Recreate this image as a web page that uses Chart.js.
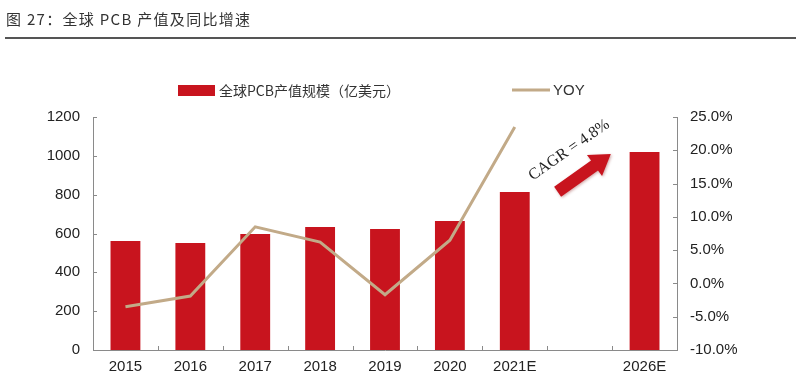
<!DOCTYPE html>
<html><head><meta charset="utf-8">
<script src="https://cdn.jsdelivr.net/npm/chart.js@4/dist/chart.umd.min.js"></script>
<style>html,body{margin:0;padding:0;background:#fff;}#wrap{width:796px;height:385px;position:relative;}</style>
</head><body><div id="wrap"><canvas id="c" width="796" height="385"></canvas></div>
<script>
const categories = ['2015','2016','2017','2018','2019','2020','2021E','','2026E'];
const pcbValues = [561, 551, 597, 633, 623, 664, 814, null, 1020];
const yoyValues = [-3.5, -1.9, 8.5, 6.2, -1.7, 6.5, 23.5, null, null];
const leftTicks = [0, 200, 400, 600, 800, 1000, 1200];
const rightTicks = [-10, -5, 0, 5, 10, 15, 20, 25];
const titleText = '图 27：全球 PCB 产值及同比增速';
const cagrText = 'CAGR = 4.8%';

const RED = '#C8141E';
const TAN = '#C2AA88';
const AXIS = '#8a8a8a';
const FONT = '"Liberation Sans", Arial, sans-serif';
const CJK = '"Noto Sans CJK SC", sans-serif';

const decor = {
  id: 'decor',
  afterDraw(chart) {
    const ctx = chart.ctx;
    const x = chart.scales.x, yl = chart.scales.y, yr = chart.scales.y1;
    const ca = chart.chartArea;
    ctx.save();
    // title
    ctx.fillStyle = '#333';
    ctx.font = '15px ' + CJK;
    ctx.textBaseline = 'middle';
    ctx.textAlign = 'left';
    if ('letterSpacing' in ctx) ctx.letterSpacing = '1.3px';
    ctx.fillText(titleText, 6, 19);
    if ('letterSpacing' in ctx) ctx.letterSpacing = '0px';
    ctx.strokeStyle = '#555';
    ctx.lineWidth = 2;
    ctx.beginPath(); ctx.moveTo(5, 38); ctx.lineTo(796, 38); ctx.stroke();
    // legend
    const ds = chart.data.datasets;
    ctx.fillStyle = RED;
    ctx.fillRect(178, 85, 37, 11);
    ctx.fillStyle = '#333';
    ctx.font = '14px ' + CJK;
    ctx.fillText(ds[0].label, 219, 91);
    ctx.strokeStyle = TAN; ctx.lineWidth = 3;
    ctx.beginPath(); ctx.moveTo(512, 90); ctx.lineTo(550, 90); ctx.stroke();
    ctx.font = '15px ' + FONT;
    ctx.fillText(ds[1].label, 553, 91);
    // inner tick marks
    ctx.strokeStyle = AXIS; ctx.lineWidth = 1;
    leftTicks.forEach(v => { const p = Math.round(yl.getPixelForValue(v)) + 0.5; ctx.beginPath(); ctx.moveTo(ca.left, p); ctx.lineTo(ca.left + 4, p); ctx.stroke(); });
    rightTicks.forEach(v => { const p = Math.round(yr.getPixelForValue(v)) + 0.5; ctx.beginPath(); ctx.moveTo(ca.right, p); ctx.lineTo(ca.right - 4, p); ctx.stroke(); });
    for (let i = 1; i < categories.length; i++) {
      const p = Math.round((x.getPixelForValue(i - 1) + x.getPixelForValue(i)) / 2) + 0.5;
      ctx.beginPath(); ctx.moveTo(p, ca.bottom); ctx.lineTo(p, ca.bottom - 4); ctx.stroke();
    }
    // CAGR arrow
    const tx = x.getPixelForValue(6.66), ty = yl.getPixelForValue(815);
    const hx = x.getPixelForValue(7.48), hy = yl.getPixelForValue(1010);
    const ang = Math.atan2(hy - ty, hx - tx);
    const len = Math.hypot(hx - tx, hy - ty);
    ctx.save();
    ctx.translate(tx, ty); ctx.rotate(ang);
    ctx.fillStyle = RED;
    ctx.shadowColor = 'rgba(120,0,0,0.35)'; ctx.shadowBlur = 3; ctx.shadowOffsetX = 1; ctx.shadowOffsetY = 1;
    const sh = 6, hw = 13, hl = 20;
    ctx.beginPath();
    ctx.moveTo(0, -sh); ctx.lineTo(len - hl, -sh); ctx.lineTo(len - hl, -hw);
    ctx.lineTo(len, 0); ctx.lineTo(len - hl, hw); ctx.lineTo(len - hl, sh); ctx.lineTo(0, sh);
    ctx.closePath(); ctx.fill();
    ctx.restore();
    // CAGR text
    ctx.save();
    ctx.translate(x.getPixelForValue(6.84), yl.getPixelForValue(1030));
    ctx.rotate(-35 * Math.PI / 180);
    ctx.fillStyle = '#222';
    ctx.font = '16px "Liberation Serif", "Times New Roman", serif';
    ctx.textAlign = 'center'; ctx.textBaseline = 'middle';
    ctx.fillText(cagrText, 0, 0);
    ctx.restore();
    ctx.restore();
  }
};

new Chart(document.getElementById('c'), {
  data: {
    labels: categories,
    datasets: [
      { type: 'bar', label: '全球PCB产值规模（亿美元）', data: pcbValues, backgroundColor: RED, yAxisID: 'y', order: 2, barPercentage: 0.46, categoryPercentage: 1 },
      { type: 'line', label: 'YOY', data: yoyValues, borderColor: TAN, borderWidth: 3, pointRadius: 0, tension: 0, yAxisID: 'y1', order: 1, spanGaps: false }
    ]
  },
  options: {
    responsive: false, animation: false,
    layout: { padding: { top: 117, left: 0, right: 0, bottom: 0 } },
    plugins: { legend: { display: false }, title: { display: false }, tooltip: { enabled: false } },
    scales: {
      x: {
        offset: true,
        grid: { display: false, drawTicks: false },
        border: { display: true, color: AXIS, width: 1 },
        ticks: { color: '#222', font: { family: FONT, size: 15 }, padding: 8, autoSkip: false, maxRotation: 0 },
        afterFit(s) { s.height = 35; }
      },
      y: {
        position: 'left', min: 0, max: 1200,
        afterBuildTicks(s) { s.ticks = leftTicks.map(v => ({ value: v })); },
        grid: { display: false, drawTicks: false },
        border: { display: true, color: AXIS, width: 1 },
        ticks: { color: '#222', font: { family: FONT, size: 15 }, padding: 13, callback: v => String(v) },
        afterFit(s) { s.width = 93; }
      },
      y1: {
        position: 'right', min: -10, max: 25,
        afterBuildTicks(s) { s.ticks = rightTicks.map(v => ({ value: v })); },
        grid: { display: false, drawTicks: false },
        border: { display: true, color: AXIS, width: 1 },
        ticks: { color: '#222', font: { family: FONT, size: 15 }, padding: 13, callback: v => v.toFixed(1) + '%' },
        afterFit(s) { s.width = 119; }
      }
    }
  },
  plugins: [decor]
});
</script></body></html>
